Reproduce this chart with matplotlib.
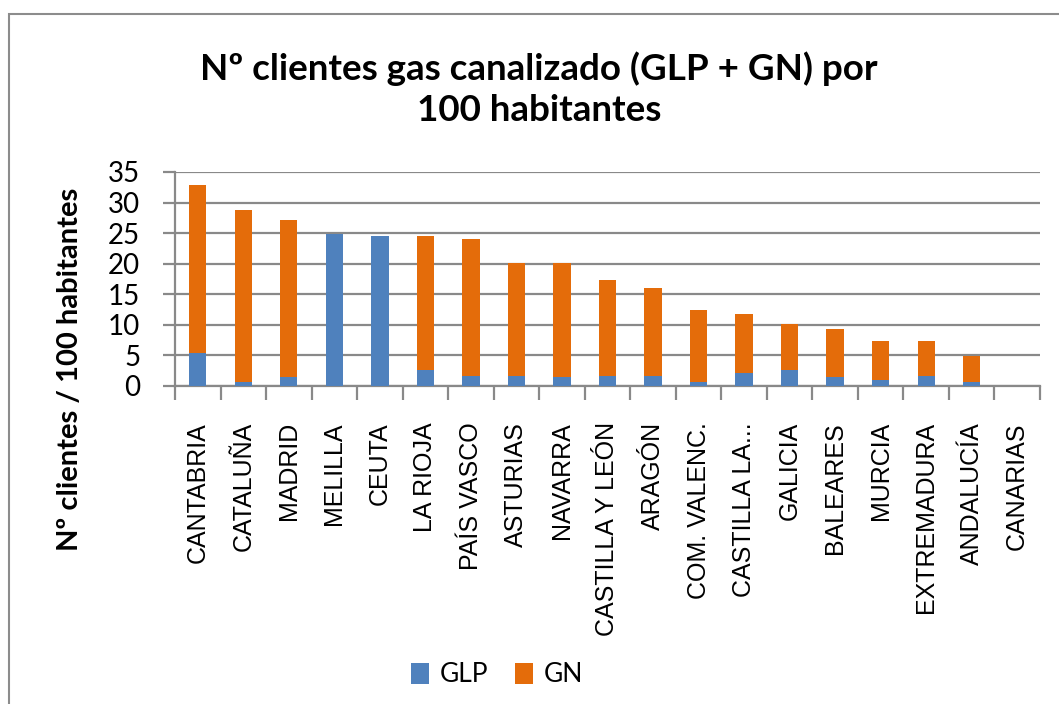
import numpy as np
import matplotlib.pyplot as plt
from matplotlib.patches import Rectangle

regions = ['CANTABRIA', 'CATALUÑA', 'MADRID', 'MELILLA', 'CEUTA', 'LA RIOJA',
           'PAÍS VASCO', 'ASTURIAS', 'NAVARRA', 'CASTILLA Y LEÓN', 'ARAGÓN',
           'COM. VALENC.', 'CASTILLA LA...', 'GALICIA', 'BALEARES', 'MURCIA',
           'EXTREMADURA', 'ANDALUCÍA', 'CANARIAS']
glp = [5.4, 0.6, 1.4, 24.9, 24.5, 2.6, 1.7, 1.7, 1.4, 1.7, 1.7,
       0.6, 2.2, 2.6, 1.4, 0.9, 1.7, 0.6, 0.0]
total = [32.9, 28.8, 27.2, 24.9, 24.5, 24.5, 24.1, 20.1, 20.1, 17.3, 16.1,
         12.5, 11.7, 10.2, 9.3, 7.3, 7.3, 4.9, 0.0]
gn = [t - g for t, g in zip(total, glp)]

blue = '#4F81BD'
orange = '#E46C0A'
grey = '#898989'

fig = plt.figure(figsize=(10.59, 7.04), dpi=100)
fig.patches.append(Rectangle((9 / 1059, -0.01), 1.05, 1 - 14 / 704 + 0.01,
                             transform=fig.transFigure, fill=False,
                             edgecolor='#8c8c8c', linewidth=1.5))

ax = fig.add_axes([175 / 1059, 1 - 386 / 704, (1040 - 175) / 1059, (386 - 172) / 704])
x = np.arange(len(regions))
w = 0.38
ax.bar(x, glp, w, color=blue, label='GLP', linewidth=0, zorder=3)
ax.bar(x, gn, w, bottom=glp, color=orange, label='GN', linewidth=0, zorder=3)

ax.set_xlim(-0.5, len(regions) - 0.5)
ax.set_ylim(0, 35)
ax.set_yticks(np.arange(0, 36, 5))
ax.yaxis.grid(True, color=grey, linewidth=1.6, zorder=0)
ax.set_axisbelow(True)
for s in ['top', 'right']:
    ax.spines[s].set_visible(False)
for s in ['left', 'bottom']:
    ax.spines[s].set_color(grey)
    ax.spines[s].set_linewidth(1.6)

ax.set_xticks(x)
ax.set_xticklabels(regions, rotation=90, fontsize=18, family='Liberation Sans')
ax.set_xticks(np.arange(-0.5, len(regions)), minor=True)
ax.tick_params(axis='x', which='major', length=0, pad=26)
ax.tick_params(axis='x', which='minor', length=10, width=1.6, color=grey)
ax.tick_params(axis='y', length=9, width=1.6, color=grey, labelsize=20, pad=16)
for lab in ax.get_yticklabels():
    lab.set_family('Lato')

fig.text(539 / 1059, 1 - 89 / 704, 'Nº clientes gas canalizado (GLP + GN) por\n100 habitantes',
         ha='center', va='center', fontsize=26.5, fontweight='bold', family='Lato',
         linespacing=1.3)
fig.text(70 / 1059, 1 - 369 / 704, 'Nº clientes / 100 habitantes', rotation=90,
         ha='center', va='center', fontsize=21, fontweight='bold', family='Lato')

fig.legend(loc='center', bbox_to_anchor=(497 / 1059, 1 - 675 / 704), ncol=2,
           frameon=False, prop={'family': 'Lato', 'size': 19},
           handlelength=0.7, handleheight=0.85, handletextpad=0.4, columnspacing=1.0)

fig.savefig('out.png', dpi=100)
